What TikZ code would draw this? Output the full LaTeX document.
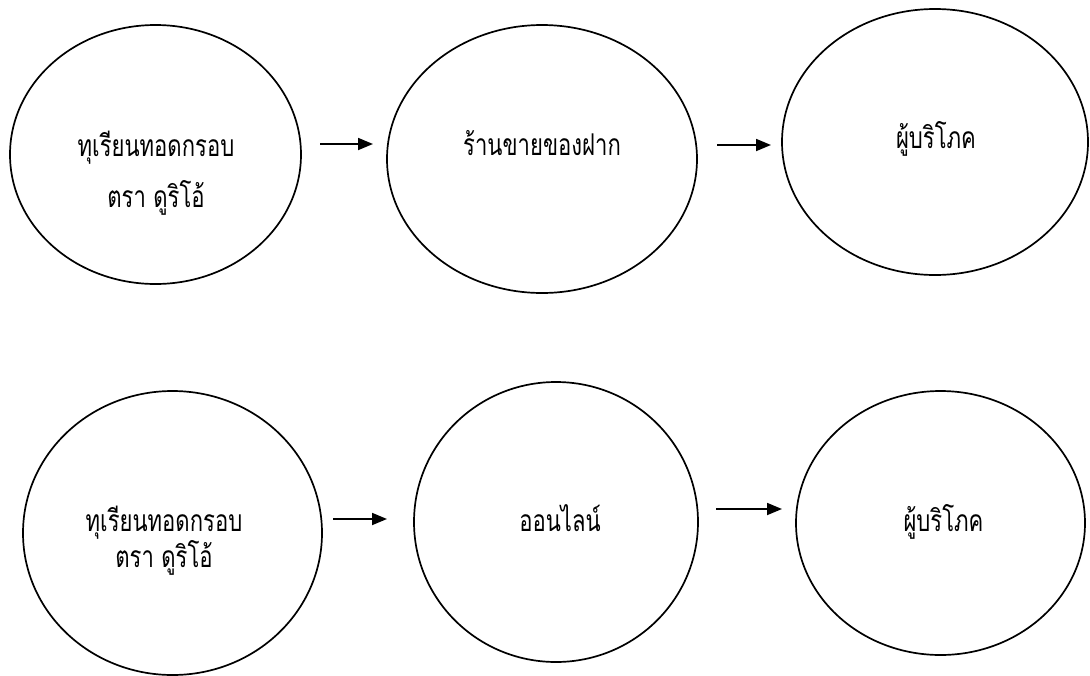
\documentclass[tikz,border=0pt]{standalone}
\usepackage{fontspec}
\newfontfamily\thaifont[Script=Thai]{Loma}
\usetikzlibrary{shapes.geometric,arrows.meta}
\newcommand\thtxt[1]{\scalebox{0.92}[1.25]{#1}}
\begin{document}
\begin{tikzpicture}[x=1pt,y=-1pt,
  bub/.style={draw=black, line width=1.7pt, ellipse, inner sep=0pt, outer sep=0pt},
  lbl/.style={font=\thaifont\fontsize{24}{30}\selectfont, inner sep=0pt, anchor=base},
  flow/.style={line width=1.8pt, -{Triangle[length=15pt,width=12pt]}}]
\useasboundingbox[fill=white] (0,0) rectangle (1090,675);
% top row
\node[bub, minimum width=291pt, minimum height=259pt] (e1) at (155.5,154.5) {};
\node[bub, minimum width=310pt, minimum height=268pt] (e2) at (542,159) {};
\node[bub, minimum width=306pt, minimum height=266pt] (e3) at (935,142) {};
% bottom row
\node[bub, minimum width=299pt, minimum height=284pt] (e4) at (172.5,533) {};
\node[bub, minimum width=284pt, minimum height=280pt] (e5) at (556,522) {};
\node[bub, minimum width=289pt, minimum height=264pt] (e6) at (940.5,523) {};
% labels
\node[lbl, align=center, font=\thaifont\fontsize{24}{51}\selectfont] (t1) at (156,207) {\thtxt{ทุเรียนทอดกรอบ}\\\thtxt{ตรา ดูริโอ้}};
\node[lbl] (t2) at (542,155) {\thtxt{ร้านขายของฝาก}};
\node[lbl] (t3) at (936,148) {\thtxt{ผู้บริโภค}};
\node[lbl, align=center, font=\thaifont\fontsize{24}{32}\selectfont] (t4) at (164,567) {\thtxt{ทุเรียนทอดกรอบ}\\\thtxt{ตรา ดูริโอ้}};
\node[lbl] (t5) at (560,531) {\thtxt{ออนไลน์}};
\node[lbl] (t6) at (943.5,531) {\thtxt{ผู้บริโภค}};
% arrows
\coordinate (a1s) at (320,144); \coordinate (a1e) at (373,144);
\coordinate (a2s) at (717,145); \coordinate (a2e) at (771,145);
\coordinate (a3s) at (333,519); \coordinate (a3e) at (387,519);
\coordinate (a4s) at (716,509); \coordinate (a4e) at (782,509);
\draw[flow] (a1s) -- (a1e);
\draw[flow] (a2s) -- (a2e);
\draw[flow] (a3s) -- (a3e);
\draw[flow] (a4s) -- (a4e);
\end{tikzpicture}
\end{document}
